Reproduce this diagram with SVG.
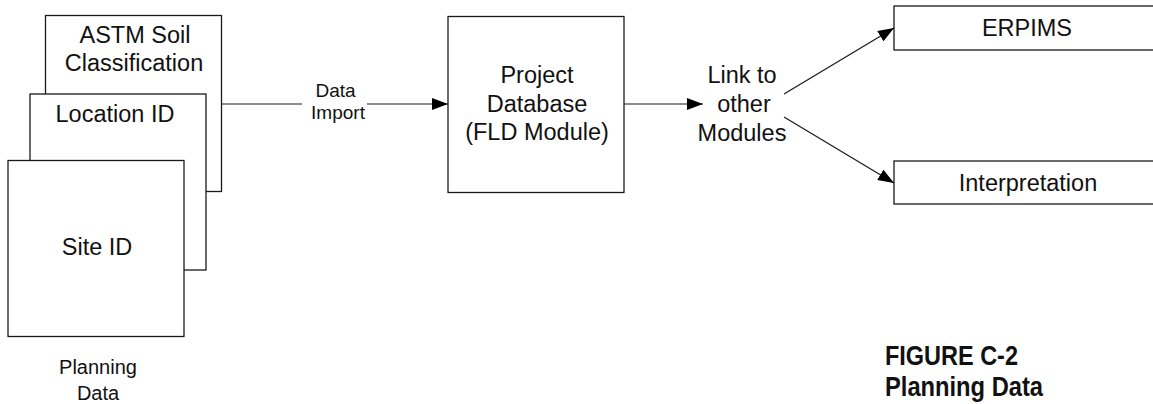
<svg xmlns="http://www.w3.org/2000/svg" width="1153" height="404" viewBox="0 0 1153 404">
  <style>
    .box { fill: #fff; stroke: #1a1a1a; stroke-width: 1.3; }
    .edge { fill: none; stroke: #1a1a1a; stroke-width: 1.2; }
    .lbl { font-family: "Liberation Sans", Arial, sans-serif; font-size: 23.5px; fill: #111; text-anchor: middle; }
    .sm { font-family: "Liberation Sans", Arial, sans-serif; font-size: 19px; fill: #111; text-anchor: middle; }
    .cap { font-family: "Liberation Sans Narrow", "Liberation Sans", Arial, sans-serif; font-size: 28px; font-weight: bold; fill: #111; }
  </style>
  <defs>
    <marker id="arrow" viewBox="0 0 16 12" refX="16" refY="6" markerWidth="16" markerHeight="12" markerUnits="userSpaceOnUse" orient="auto">
      <path d="M0,0 L16,6 L0,12 Z" fill="#000"/>
    </marker>
  </defs>

  <!-- stacked planning data sheets -->
  <g id="astm">
    <rect class="box" x="45.5" y="15.5" width="176" height="176"/>
    <text class="lbl" x="135" y="43">ASTM Soil</text>
    <text class="lbl" x="134" y="71">Classification</text>
  </g>
  <g id="location">
    <rect class="box" x="30" y="94" width="176" height="176"/>
    <text class="lbl" x="115" y="122">Location ID</text>
  </g>
  <g id="site">
    <rect class="box" x="8" y="160.5" width="176" height="176"/>
    <text class="lbl" x="97" y="255">Site ID</text>
  </g>
  <g id="planning-label">
    <text class="sm" x="98" y="374" style="font-size:20px">Planning</text>
    <text class="sm" x="98" y="400" style="font-size:20px">Data</text>
  </g>

  <g id="project">
    <rect class="box" x="448" y="16.5" width="176" height="176"/>
    <text class="lbl" x="537" y="83">Project</text>
    <text class="lbl" x="537" y="112">Database</text>
    <text class="lbl" x="537" y="140">(FLD Module)</text>
  </g>

  <g id="link">
    <text class="lbl" x="742" y="83">Link to</text>
    <text class="lbl" x="744" y="112">other</text>
    <text class="lbl" x="742" y="141">Modules</text>
  </g>

  <g id="erpims">
    <rect class="box" x="894" y="6" width="270" height="44"/>
    <text class="lbl" x="1027" y="36">ERPIMS</text>
  </g>
  <g id="interpretation">
    <rect class="box" x="894" y="161" width="270" height="43"/>
    <text class="lbl" x="1028" y="191">Interpretation</text>
  </g>

  <g id="connectors">
    <line class="edge" x1="222" y1="104" x2="302" y2="104"/>
    <line class="edge" x1="367" y1="104" x2="448" y2="104" marker-end="url(#arrow)"/>
    <text class="sm" x="335.5" y="97">Data</text>
    <text class="sm" x="338" y="119">Import</text>
    <line class="edge" x1="624" y1="104" x2="703" y2="104" marker-end="url(#arrow)"/>
    <line class="edge" x1="784" y1="94" x2="894" y2="28" marker-end="url(#arrow)"/>
    <line class="edge" x1="784" y1="117" x2="894" y2="183" marker-end="url(#arrow)"/>
  </g>

  <g id="caption">
    <text class="cap" x="885" y="365" textLength="133" lengthAdjust="spacingAndGlyphs">FIGURE C-2</text>
    <text class="cap" x="885" y="396" textLength="158" lengthAdjust="spacingAndGlyphs">Planning Data</text>
  </g>
</svg>
